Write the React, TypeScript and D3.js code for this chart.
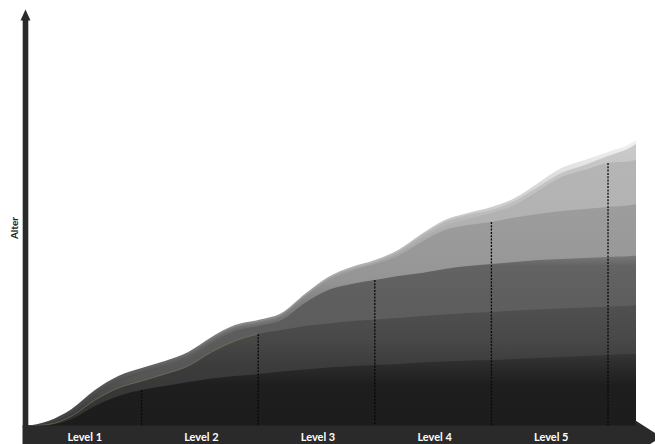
import React from "react";
import * as d3 from "d3";

// x positions in "levels" (0 = origin, 1..5 = level boundaries)
const positions = [0, 0.2, 0.4, 0.6, 0.8, 1, 1.2, 1.4, 1.6, 1.8, 2, 2.2, 2.4, 2.6, 2.8, 3, 3.2, 3.4, 3.6, 3.8, 4, 4.2, 4.4, 4.6, 4.8, 5, 5.2, 5.24];
const levelLabels = ["Level 1", "Level 2", "Level 3", "Level 4", "Level 5"];
const axisTitle = "Alter";

// cumulative heights of each boundary curve (top to bottom)
const outline = [0, 5, 17, 36, 50, 58, 65, 74, 89, 101, 106, 113, 132, 149, 159, 166, 176, 192, 206, 213, 219, 228, 243, 258, 266, 274, 283, 286];
const highlight = [0, 3.5, 15, 34, 48, 56, 63, 72, 87, 99, 104, 111, 130, 147, 157, 164, 174, 190, 204, 211, 216, 225, 239, 253, 261, 270, 279, 282];
const stage5 = [0, 3, 14, 33, 47, 55, 62, 71, 86, 98, 103, 110, 129, 146, 156, 163, 172, 187, 200, 207, 213, 221, 235, 249, 256, 263, 265, 266];
const stage4 = [0, 2.5, 13, 32, 46, 54, 61, 70, 85, 97, 102, 109, 128, 145, 155, 162, 170, 184, 196, 201, 204, 208.5, 212, 215, 217, 219, 221, 222];
const stage3 = [0, 2, 12, 30, 44, 52, 59, 68, 83, 95, 100, 106, 123, 136, 142, 146, 150, 153, 157, 160, 162, 164, 166, 167, 168, 169, 170, 170.5];
const stage2 = [0, 1.5, 10, 26, 38, 45, 52, 60, 74, 85, 92, 96, 100, 102.5, 105, 106.5, 108, 110, 111.5, 113, 114, 115.5, 116.5, 117.5, 118.5, 119.5, 120.5, 121];
const stage1 = [0, 1, 7, 20, 30, 36, 40, 44, 47.5, 50, 52, 54.5, 56.5, 58.5, 60, 61, 62, 63.5, 64.5, 65.5, 66, 67, 68, 69, 70, 71, 72, 72];

const W = 655;
const H = 444;

const x = d3.scaleLinear().domain([0, 5.24]).range([25, 636]);
const y = d3.scaleLinear().domain([0, 286]).range([426, 140]);

// gradient stops as [pixel y, colour]
const layers = [
  { id: "g7", values: outline, stops: [[140, "#f2f2f2"], [210, "#cbcbcb"], [260, "#b5b5b5"], [320, "#8a8a8a"], [372, "#5c5c5c"], [426, "#404040"]] },
  { id: "g6", values: highlight, stops: [[150, "#c9c9c9"], [210, "#bdbdbd"], [260, "#a8a8a8"], [320, "#7a7a7a"], [380, "#555555"], [426, "#404040"]] },
  { id: "g5", values: stage5, stops: [[160, "#b5b5b5"], [220, "#b2b2b2"], [270, "#a0a0a0"], [330, "#707070"], [380, "#555555"], [426, "#3a3a3a"]] },
  { id: "g4", values: stage4, stops: [[200, "#9d9d9d"], [250, "#999999"], [280, "#959595"], [330, "#6a6a6a"], [380, "#505050"], [426, "#383838"]] },
  { id: "g3", values: stage3, stops: [[252, "#808080"], [266, "#636363"], [300, "#5e5e5e"], [335, "#5d5d5d"], [380, "#555555"], [426, "#333333"]] },
  { id: "g2", values: stage2, stops: [[305, "#505050"], [340, "#484848"], [365, "#3c3c3c"], [390, "#383838"], [426, "#303030"]] },
  { id: "g1", values: stage1, stops: [[350, "#3a3a3a"], [362, "#2e2e2e"], [385, "#1e1e1e"], [426, "#1c1c1c"]] },
];

const stages = [stage1, stage2, stage3, stage4, stage5];

export default function App() {
  const area = d3
    .area<number>()
    .x((_, i) => x(positions[i]))
    .y0(y(0))
    .y1((d) => y(d))
    .curve(d3.curveMonotoneX);

  const lineGen = d3
    .line<number>()
    .x((_, i) => x(positions[i]))
    .y((d) => y(d))
    .curve(d3.curveMonotoneX);

  const kneeIdx2 = positions.indexOf(2);
  const tanPath = lineGen(stage2.slice(0, kneeIdx2 + 1)) || "";

  const y0 = y(0);
  const top = y.range()[1];
  const bottom = y.range()[0];

  return (
    <svg
      width={W}
      height={H}
      style={{ position: "absolute", left: 0, top: 0, background: "#ffffff" }}
    >
      <defs>
        {layers.map((l) => (
          <linearGradient key={l.id} id={l.id} gradientUnits="userSpaceOnUse" x1={0} x2={0} y1={top} y2={bottom}>
            {l.stops.map(([py, c], i) => (
              <stop key={i} offset={((py as number) - top) / (bottom - top)} stopColor={c as string} />
            ))}
          </linearGradient>
        ))}
      </defs>

      {layers.map((l) => (
        <path key={l.id} d={area(l.values) || ""} fill={`url(#${l.id})`} />
      ))}

      <path d={tanPath} fill="none" stroke="#8b7d55" strokeWidth={0.8} opacity={0.7} />

      {stages.map((s, k) => {
        const idx = positions.indexOf(k + 1);
        return (
          <line
            key={k}
            x1={x(k + 1)}
            x2={x(k + 1)}
            y1={y(s[idx])}
            y2={y0}
            stroke="#080808"
            strokeWidth={1.3}
            strokeDasharray="2,1.3"
          />
        );
      })}

      {/* bottom axis band with arrow */}
      <rect x={22.5} y={y0 - 0.5} width={636 - 22.5} height={23} fill="#2a2a2a" />
      <polygon points={`635.5,${y0 - 5.5} 661,${y0 + 11} 635.5,${y0 + 27.5}`} fill="#2a2a2a" />

      {/* vertical axis with arrow */}
      <rect x={22.7} y={18} width={5.6} height={y0 - 17} fill="#2a2a2a" />
      <polygon points="20.5,20.5 25.5,9.5 30.5,20.5" fill="#2a2a2a" />

      {levelLabels.map((t, i) => (
        <text
          key={t}
          x={x(i + 0.5) + 1.5}
          y={440.7}
          textAnchor="middle"
          fill="#ffffff"
          fontFamily="Lato, 'Open Sans', sans-serif"
          fontWeight="bold"
          fontSize={11}
        >
          {t}
        </text>
      ))}

      <text
        transform={`translate(17.5, 228) rotate(-90)`}
        textAnchor="middle"
        fill="#222222"
        fontFamily="Lato, 'Open Sans', sans-serif"
        fontWeight="bold"
        fontSize={10}
      >
        {axisTitle}
      </text>
    </svg>
  );
}
